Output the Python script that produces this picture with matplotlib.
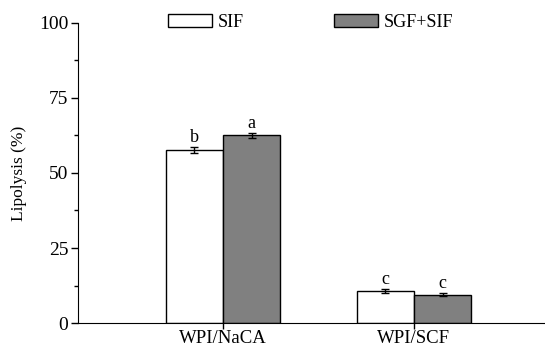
import matplotlib
matplotlib.use("Agg")
import matplotlib.pyplot as plt
import numpy as np

plt.rcParams["font.family"] = ["Liberation Serif", "DejaVu Serif"]

groups = ["WPI/NaCA", "WPI/SCF"]
sif = [57.5, 10.7]
sif_err = [1.0, 0.6]
sgf_sif = [62.5, 9.5]
sgf_err = [0.7, 0.4]
sif_letters = ["b", "c"]
sgf_letters = ["a", "c"]

fig = plt.figure(figsize=(5.45, 3.47), dpi=100)
ax = fig.add_axes([0.143, 0.069, 0.857, 0.865])

x = np.arange(1, len(groups) + 1)
w = 0.30
ax.bar(x - w / 2, sif, w, color="white", edgecolor="black", linewidth=1.0,
       yerr=sif_err, capsize=3, error_kw=dict(elinewidth=1, capthick=1),
       label="SIF")
ax.bar(x + w / 2, sgf_sif, w, color="#808080", edgecolor="black", linewidth=1.0,
       yerr=sgf_err, capsize=3, error_kw=dict(elinewidth=1, capthick=1),
       label="SGF+SIF")

for xi, v, e, t in zip(x - w / 2, sif, sif_err, sif_letters):
    ax.text(xi, v + e + 0.5, t, ha="center", va="bottom", fontsize=13)
for xi, v, e, t in zip(x + w / 2, sgf_sif, sgf_err, sgf_letters):
    ax.text(xi, v + e + 0.5, t, ha="center", va="bottom", fontsize=13)

ax.set_xlim(0.241, 2.686)
ax.set_ylim(0, 100)
ax.set_yticks([0, 25, 50, 75, 100])
ax.set_yticks([12.5, 37.5, 62.5, 87.5], minor=True)
ax.set_xticks(x)
ax.set_xticklabels(groups)
ax.tick_params(axis="y", labelsize=14, direction="out", length=5, width=1, pad=2)
ax.tick_params(axis="x", labelsize=13.5, direction="out", length=4, width=1, pad=1)
ax.tick_params(axis="y", which="minor", length=3, width=1)
ax.set_ylabel("Lipolysis (%)", fontsize=12.5)
ax.yaxis.set_label_coords(-0.11, 0.5)
ax.spines["top"].set_visible(False)
ax.spines["right"].set_visible(False)

ax.legend(loc="lower left", bbox_to_anchor=(0.178, 0.95), ncol=2, frameon=False,
          fontsize=13, handlelength=2.4, handleheight=0.75, columnspacing=5.0,
          handletextpad=0.35, borderaxespad=0)

fig.savefig("out.png", dpi=100)
